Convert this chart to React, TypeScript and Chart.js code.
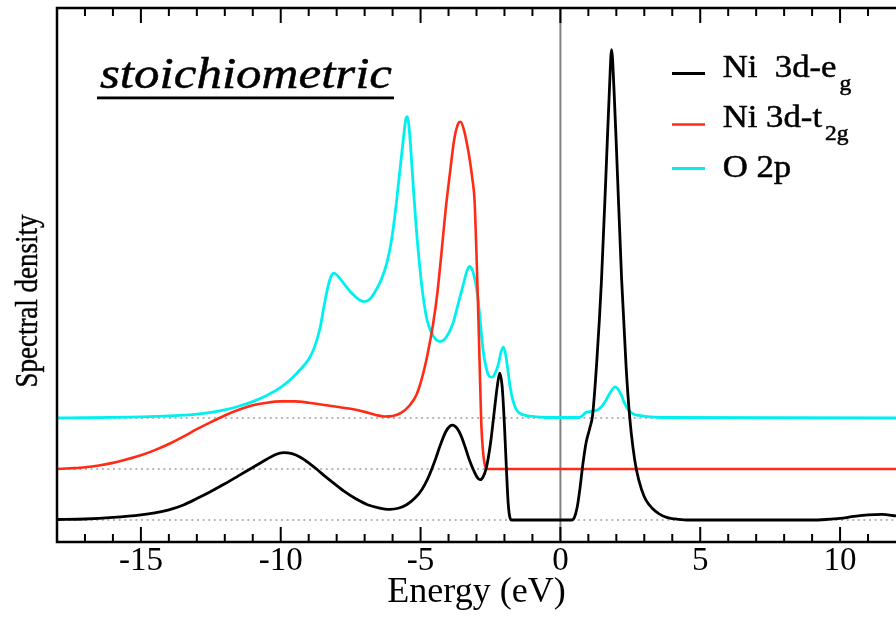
import React, { useEffect, useRef } from "react";
import { Chart, registerables } from "chart.js";

Chart.register(...registerables);

// ---- data (energies in eV, spectral density in arbitrary units) ----
const egEnergy = [-18, -17, -16, -15, -14.5, -14, -13.5, -13, -12.5, -12, -11.5, -11, -10.5, -10.2, -9.9, -9.6, -9.3, -9.0, -8.7, -8.4, -8.1, -7.7, -7.3, -6.9, -6.5, -6.1, -5.8, -5.5, -5.2, -4.95, -4.75, -4.5, -4.3, -4.1, -3.95, -3.85, -3.7, -3.55, -3.4, -3.25, -3.1, -2.98, -2.88, -2.78, -2.65, -2.5, -2.35, -2.25, -2.17, -2.08, -2.0, -1.93, -1.87, -1.81, -1.74, 0.4, 0.5, 0.6, 0.7, 0.8, 0.92, 1.05, 1.15, 1.3, 1.47, 1.65, 1.75, 1.83, 1.92, 2.02, 2.19, 2.35, 2.48, 2.6, 2.72, 2.9, 3.06, 3.3, 3.53, 3.8, 4.1, 4.5, 9.0, 9.5, 10, 10.5, 11, 11.5, 12];
const egDensity = [0.01, 0.02, 0.05, 0.1, 0.14, 0.2, 0.29, 0.42, 0.56, 0.71, 0.87, 1.03, 1.19, 1.28, 1.32, 1.3, 1.23, 1.12, 0.99, 0.85, 0.72, 0.55, 0.41, 0.3, 0.24, 0.21, 0.23, 0.3, 0.43, 0.6, 0.8, 1.14, 1.46, 1.73, 1.84, 1.86, 1.8, 1.65, 1.42, 1.17, 0.97, 0.84, 0.79, 0.83, 1.02, 1.5, 2.2, 2.65, 2.88, 2.6, 1.85, 1.0, 0.35, 0.06, 0, 0, 0.05, 0.25, 0.62, 1.08, 1.52, 1.8, 2.05, 3.1, 4.71, 7.06, 8.4, 9.22, 8.4, 7.06, 4.71, 3.0, 2.0, 1.4, 0.98, 0.6, 0.39, 0.22, 0.12, 0.05, 0.02, 0, 0, 0.01, 0.03, 0.07, 0.1, 0.11, 0.08];

const t2gEnergy = [-18, -17.5, -17, -16.5, -16, -15.5, -15, -14.5, -14, -13.5, -13, -12.5, -12, -11.5, -11, -10.5, -10, -9.5, -9, -8.5, -8, -7.5, -7, -6.6, -6.3, -6.0, -5.7, -5.4, -5.15, -4.95, -4.75, -4.55, -4.4, -4.25, -4.1, -3.95, -3.8, -3.65, -3.57, -3.45, -3.35, -3.24, -3.15, -3.07, -3.0, -2.95, -2.89, -2.83, -2.76, -2.7, -2.64, 12];
const t2gDensity = [0, 0.015, 0.035, 0.07, 0.12, 0.19, 0.27, 0.37, 0.49, 0.63, 0.78, 0.92, 1.05, 1.16, 1.25, 1.3, 1.325, 1.325, 1.3, 1.26, 1.22, 1.18, 1.12, 1.06, 1.03, 1.04, 1.1, 1.24, 1.45, 1.78, 2.25, 2.85, 3.45, 4.25, 5.1, 5.8, 6.45, 6.78, 6.81, 6.65, 6.4, 6.06, 5.7, 5.27, 4.2, 3.31, 2.1, 0.9, 0.3, 0.08, 0, 0];

const o2pEnergy = [-18, -17, -16, -15, -14, -13.5, -13, -12.5, -12, -11.5, -11, -10.5, -10, -9.6, -9.3, -9.0, -8.8, -8.6, -8.45, -8.3, -8.18, -8.1, -7.95, -7.75, -7.5, -7.25, -7.02, -6.8, -6.6, -6.4, -6.2, -6.05, -5.9, -5.75, -5.62, -5.53, -5.48, -5.42, -5.34, -5.25, -5.15, -5.03, -4.9, -4.78, -4.62, -4.45, -4.3, -4.15, -4.0, -3.84, -3.65, -3.48, -3.35, -3.25, -3.15, -3.05, -2.95, -2.85, -2.77, -2.66, -2.55, -2.45, -2.33, -2.22, -2.12, -2.04, -1.96, -1.88, -1.8, -1.7, -1.58, -1.45, -1.25, -1.0, -0.5, 0.6, 0.75, 0.92, 1.15, 1.39, 1.6, 1.75, 1.96, 2.16, 2.3, 2.46, 2.65, 2.82, 3.2, 3.6, 12];
const o2pDensity = [0, 0.005, 0.012, 0.022, 0.04, 0.055, 0.075, 0.11, 0.16, 0.23, 0.32, 0.44, 0.6, 0.78, 0.95, 1.15, 1.38, 1.75, 2.2, 2.6, 2.8, 2.84, 2.78, 2.64, 2.47, 2.34, 2.28, 2.34, 2.5, 2.72, 3.05, 3.45, 4.05, 4.8, 5.45, 5.85, 5.91, 5.75, 5.2, 4.45, 3.7, 2.97, 2.35, 1.95, 1.68, 1.54, 1.5, 1.54, 1.66, 1.86, 2.25, 2.6, 2.87, 2.97, 2.9, 2.7, 2.35, 1.8, 1.35, 1.0, 0.82, 0.8, 0.88, 1.05, 1.3, 1.39, 1.25, 0.95, 0.62, 0.35, 0.17, 0.09, 0.05, 0.03, 0.01, 0.01, 0.03, 0.11, 0.13, 0.18, 0.32, 0.47, 0.61, 0.47, 0.28, 0.14, 0.07, 0.05, 0.02, 0.01, 0];

const seriesLabels = ["Ni  3d-e", "Ni 3d-t", "O 2p"];
const seriesSubscripts = ["g", "2g", ""];
const seriesOffsets = [0, 1, 2];
const seriesColors = ["#000000", "#ff2b14", "#00f0f0"];

const xTickValues = [-15, -10, -5, 0, 5, 10];
const xMin = -18;
const xMax = 12;
const yMin = -0.4314;
const yMax = 10.039;

const titleText = "stoichiometric";
const xAxisTitle = "Energy (eV)";
const yAxisTitle = "Spectral density";

const SERIF = "'Liberation Serif', 'Times New Roman', serif";

function drawStretched(ctx: CanvasRenderingContext2D, text: string, x: number, y: number, font: string, sx: number): number {
  ctx.save();
  ctx.font = font;
  ctx.translate(x, y);
  ctx.scale(sx, 1);
  ctx.textAlign = "left";
  ctx.textBaseline = "alphabetic";
  ctx.fillText(text, 0, 0);
  ctx.lineWidth = 0.5;
  ctx.strokeStyle = ctx.fillStyle as string;
  ctx.strokeText(text, 0, 0);
  const w = ctx.measureText(text).width * sx;
  ctx.restore();
  return w;
}

const decorPlugin = {
  id: "decor",
  beforeDatasetsDraw(chart: any) {
    const { ctx, chartArea: a, scales } = chart;
    const xs = scales.x;
    const ys = scales.y;
    ctx.save();
    ctx.strokeStyle = "#a0a0a0";
    ctx.lineWidth = 1.5;
    ctx.setLineDash([2, 3.6]);
    seriesOffsets.forEach((o) => {
      const y = ys.getPixelForValue(o);
      ctx.beginPath();
      ctx.moveTo(a.left, y);
      ctx.lineTo(a.right, y);
      ctx.stroke();
    });
    ctx.setLineDash([]);
    const x0 = xs.getPixelForValue(0);
    ctx.strokeStyle = "#808080";
    ctx.lineWidth = 2;
    ctx.beginPath();
    ctx.moveTo(x0, a.top);
    ctx.lineTo(x0, a.bottom);
    ctx.stroke();
    ctx.restore();
  },
  afterDatasetsDraw(chart: any) {
    const { ctx, chartArea: a, scales } = chart;
    const xs = scales.x;
    ctx.save();
    ctx.strokeStyle = "#000";
    ctx.lineWidth = 2.5;
    ctx.beginPath();
    ctx.moveTo(a.right + 2, a.top);
    ctx.lineTo(a.left, a.top);
    ctx.lineTo(a.left, a.bottom);
    ctx.lineTo(a.right + 2, a.bottom);
    ctx.stroke();
    ctx.lineWidth = 2;
    for (let v = Math.ceil(xMin); v <= Math.floor(xMax); v++) {
      if (v === xMin || v === xMax) continue;
      const major = v % 5 === 0;
      const len = major ? 15 : 8;
      const x = xs.getPixelForValue(v);
      ctx.beginPath();
      ctx.moveTo(x, a.bottom);
      ctx.lineTo(x, a.bottom - len);
      ctx.moveTo(x, a.top);
      ctx.lineTo(x, a.top + len);
      ctx.stroke();
    }
    ctx.restore();
  },
  afterDraw(chart: any) {
    const { ctx } = chart;
    ctx.save();
    ctx.fillStyle = "#000";
    const tw = drawStretched(ctx, titleText, 100, 88, `italic 44px ${SERIF}`, 1.16);
    ctx.fillStyle = "#000";
    ctx.fillRect(97, 96.5, tw + 5, 2.8);

    const lineX0 = 672;
    const lineX1 = 705;
    const lineYs = [73.5, 124.5, 168.5];
    const textYs = [76.7, 126.7, 176.7];
    const widths = [3, 2.4, 3];
    seriesLabels.forEach((lab, i) => {
      ctx.strokeStyle = seriesColors[i];
      ctx.lineWidth = widths[i];
      ctx.beginPath();
      ctx.moveTo(lineX0, lineYs[i]);
      ctx.lineTo(lineX1, lineYs[i]);
      ctx.stroke();
      ctx.fillStyle = "#000";
      const w = drawStretched(ctx, lab, 722.7, textYs[i], `31px ${SERIF}`, 1.12);
      if (seriesSubscripts[i]) {
        drawStretched(ctx, seriesSubscripts[i], 722.7 + w + 3, textYs[i] + 13.3, `21px ${SERIF}`, 1.12);
      }
    });

    ctx.save();
    ctx.translate(37, 301);
    ctx.rotate(-Math.PI / 2);
    ctx.scale(1, 1.2);
    ctx.font = `27px ${SERIF}`;
    ctx.textAlign = "center";
    ctx.textBaseline = "alphabetic";
    ctx.fillStyle = "#000";
    ctx.fillText(yAxisTitle, 0, 0);
    ctx.lineWidth = 0.4;
    ctx.strokeStyle = "#000";
    ctx.strokeText(yAxisTitle, 0, 0);
    ctx.restore();

    ctx.restore();
  },
};

export default function App() {
  const canvasRef = useRef<HTMLCanvasElement | null>(null);

  useEffect(() => {
    document.body.style.margin = "0";
    const canvas = canvasRef.current;
    if (!canvas) return;

    const sets = [
      { e: egEnergy, d: egDensity },
      { e: t2gEnergy, d: t2gDensity },
      { e: o2pEnergy, d: o2pDensity },
    ];
    const lineWidths = [2.8, 2.6, 2.8];

    const chart = new Chart(canvas, {
      type: "line",
      data: {
        datasets: sets.map((s, i) => ({
          label: seriesLabels[i] + seriesSubscripts[i],
          data: s.e.map((x, k) => ({ x, y: s.d[k] + seriesOffsets[i] })),
          borderColor: seriesColors[i],
          backgroundColor: seriesColors[i],
          borderWidth: lineWidths[i],
          pointRadius: 0,
          fill: false,
          cubicInterpolationMode: "monotone" as const,
        })),
      },
      options: {
        animation: false,
        responsive: false,
        devicePixelRatio: 1,
        layout: { padding: { left: 57, top: 8, right: 0, bottom: 0 } },
        plugins: {
          legend: { display: false },
          tooltip: { enabled: false },
        },
        events: [],
        scales: {
          x: {
            type: "linear",
            min: xMin,
            max: xMax,
            grid: { display: false, drawTicks: false },
            border: { display: false },
            afterBuildTicks: (scale: any) => {
              scale.ticks = xTickValues.map((v) => ({ value: v }));
            },
            afterFit: (scale: any) => {
              scale.height = 75;
            },
            ticks: {
              autoSkip: false,
              maxRotation: 0,
              padding: 0,
              color: "#000",
              font: { family: SERIF, size: 33 },
              callback: (v: any) => String(v),
            },
            title: {
              display: true,
              text: xAxisTitle,
              color: "#000",
              font: { family: SERIF, size: 36 },
              padding: { top: 0, bottom: 2.5 },
            },
          },
          y: {
            type: "linear",
            display: false,
            min: yMin,
            max: yMax,
          },
        },
      },
      plugins: [decorPlugin],
    });

    return () => {
      chart.destroy();
    };
  }, []);

  return (
    <canvas
      ref={canvasRef}
      width={896}
      height={617}
      style={{ display: "block", width: "896px", height: "617px" }}
    />
  );
}
